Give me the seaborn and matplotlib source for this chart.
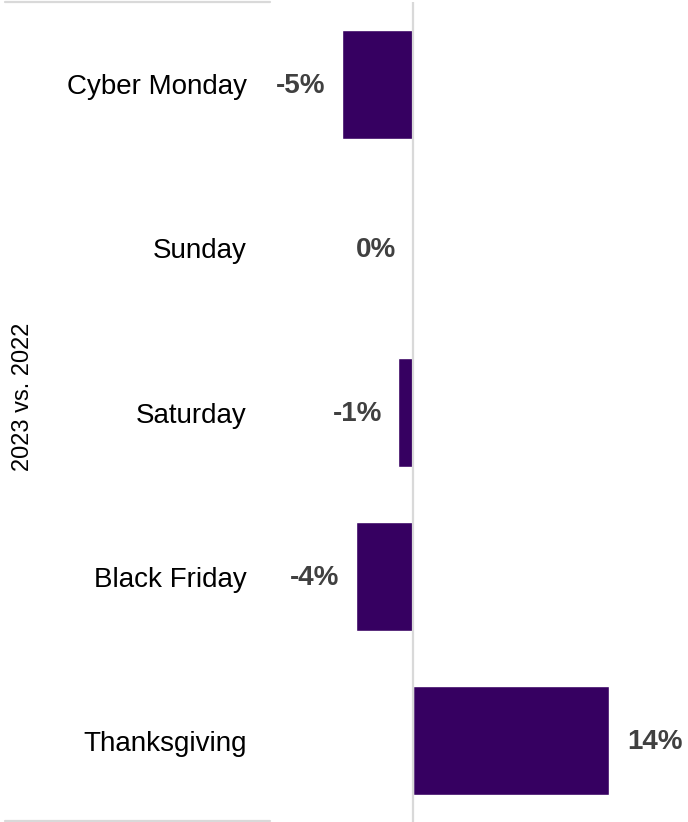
import matplotlib
matplotlib.use("Agg")
import matplotlib.pyplot as plt
import seaborn as sns
import pandas as pd
from matplotlib.lines import Line2D

# Holiday-weekend change, 2023 vs. 2022
days = ["Cyber Monday", "Sunday", "Saturday", "Black Friday", "Thanksgiving"]
change_pct = [-5, 0, -1, -4, 14]
group_label = "2023 vs. 2022"

df = pd.DataFrame({"day": days, "change": change_pct})

sns.set_theme(style="white")
plt.rcParams["font.family"] = ["Liberation Sans", "DejaVu Sans"]

W, H, DPI = 688, 822, 100
fig = plt.figure(figsize=(W / DPI, H / DPI), dpi=DPI)

# axes placement in pixels
ax_left, ax_right = 262, 688
ax_top, ax_bottom = 2.5, 822.5
ax = fig.add_axes([ax_left / W, 1 - ax_bottom / H,
                   (ax_right - ax_left) / W, (ax_bottom - ax_top) / H])

bar_color = "#360061"
sns.barplot(data=df, x="change", y="day", order=days, orient="h",
            color=bar_color, width=0.665, saturation=1, ax=ax, zorder=2)

zero_px = 412.5
px_per_unit = 14.06
ax.set_xlim((ax_left - zero_px) / px_per_unit, (ax_right - zero_px) / px_per_unit)
ax.set_ylim(len(days) - 0.5, -0.5)

ax.axvline(0, color="#d9d9d9", lw=1.6, zorder=3)

for i, v in enumerate(change_pct):
    if v <= 0:
        ax.annotate(f"{v}%", xy=(v, i), xytext=(-12, -1.2), textcoords="offset points",
                    ha="right", va="center", fontsize=20, fontweight="bold",
                    color="#404040")
    else:
        ax.annotate(f"{v}%", xy=(v, i), xytext=(13, -1.2), textcoords="offset points",
                    ha="left", va="center", fontsize=20, fontweight="bold",
                    color="#404040")

ax.set_xticks([])
ax.set_xlabel("")
ax.set_ylabel("")
ax.tick_params(axis="y", length=0, pad=11, labelsize=20, labelcolor="black")
for s in ax.spines.values():
    s.set_visible(False)

# group label and the separators of the category block
fig.text(23 / W, 1 - 397 / H, group_label, rotation=90, ha="center", va="center",
         fontsize=17, color="black")
for y in (2.5, 820.5):
    fig.add_artist(Line2D([5 / W, 270 / W], [1 - y / H, 1 - y / H],
                          color="#d9d9d9", lw=1.6))

fig.savefig("out.png", dpi=DPI)
